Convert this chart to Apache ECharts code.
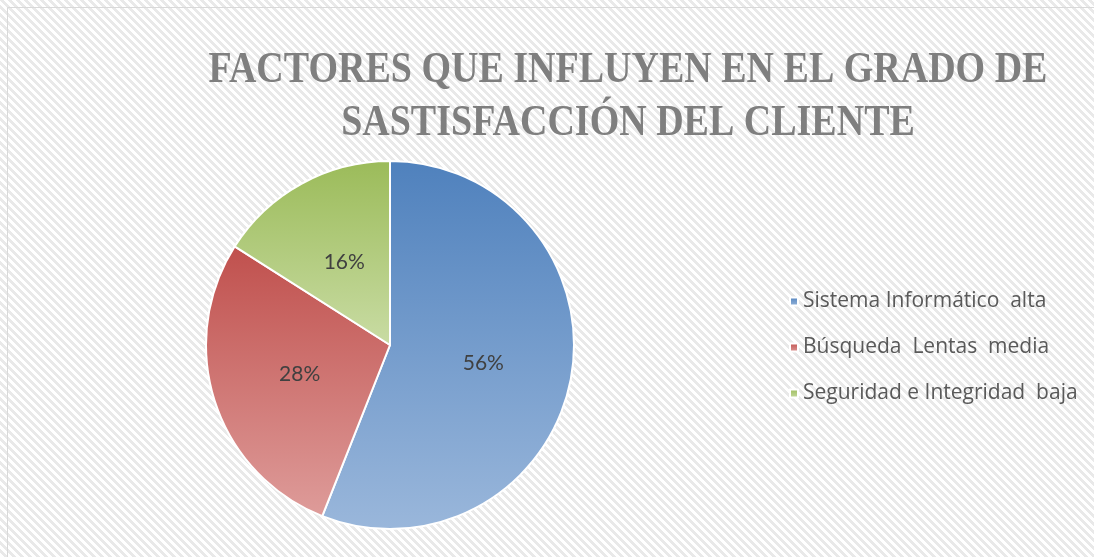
<!DOCTYPE html>
<html>
<head>
<meta charset="utf-8">
<script src="https://cdn.jsdelivr.net/npm/echarts@6/dist/echarts.min.js"></script>
<style>
  html, body { margin: 0; padding: 0; background: #fff; }
  #chart { width: 1094px; height: 557px; }
</style>
</head>
<body>
<div id="chart"></div>
<script>
// datos del gráfico
var categorias = ["Sistema Informático  alta", "Búsqueda  Lentas  media", "Seguridad e Integridad  baja"];
var valores = [56, 28, 16];
var titulo = "FACTORES QUE INFLUYEN EN EL GRADO DE\nSASTISFACCIÓN DEL CLIENTE";

// colores degradados (arriba oscuro, abajo claro)
var colores = [
  ["#4f81bd", "#9ab7db"],
  ["#c0504d", "#de9c9a"],
  ["#9bbb59", "#c9dca4"]
];

// patrón de fondo rayado
function crearPatron() {
  var c = document.createElement("canvas");
  c.width = 8; c.height = 8;
  var ctx = c.getContext("2d");
  ctx.fillStyle = "#ffffff";
  ctx.fillRect(0, 0, 8, 8);
  ctx.fillStyle = "#e9e9e9";
  for (var y = 0; y < 8; y++) {
    for (var x = 0; x < 8; x++) {
      var d = ((x - y) % 8 + 8) % 8;
      if (d < 4) ctx.fillRect(x, y, 1, 1);
    }
  }
  return c;
}

var chart = echarts.init(document.getElementById("chart"));
var option = {
  backgroundColor: { image: crearPatron(), repeat: "repeat" },
  legend: {
    orient: "vertical",
    left: 784,
    top: 286,
    itemWidth: 8,
    itemHeight: 8,
    itemGap: 25,
    icon: "rect",
    textStyle: { fontFamily: "Open Sans", fontSize: 21, color: "#595959" },
    data: categorias
  },
  graphic: [{
    type: "rect",
    shape: { x: 7.5, y: 7.5, width: 1100, height: 560 },
    style: { fill: "none", stroke: "#d9d9d9", lineWidth: 1 },
    silent: true
  }, {
    // título (fuente condensada: se estira en vertical)
    type: "text",
    x: 628,
    y: 44,
    scaleY: 1.18,
    silent: true,
    style: {
      text: titulo,
      align: "center",
      verticalAlign: "top",
      font: "bold 38px 'Liberation Serif'",
      lineHeight: 45,
      fill: "#7f7f7f"
    }
  }],
  series: [{
    type: "pie",
    center: [390, 345],
    radius: 184,
    startAngle: 90,
    clockwise: true,
    label: {
      position: "inside",
      formatter: "{c}%",
      fontFamily: "Lato",
      fontSize: 21,
      color: "#404040"
    },
    labelLine: { show: false },
    itemStyle: { borderColor: "#ffffff", borderWidth: 2 },
    emphasis: { disabled: true },
    data: categorias.map(function (n, i) {
      return {
        name: n,
        value: valores[i],
        itemStyle: {
          color: new echarts.graphic.LinearGradient(0, 0, 0, 1, [
            { offset: 0, color: colores[i][0] },
            { offset: 1, color: colores[i][1] }
          ])
        }
      };
    })
  }]
};
chart.setOption(option);
</script>
</body>
</html>
